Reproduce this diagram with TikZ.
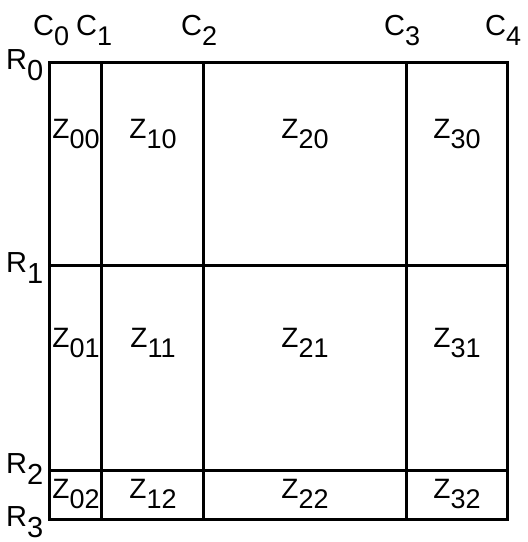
\documentclass[tikz,border=0pt]{standalone}
\usepackage{fontspec}
\setmainfont{Liberation Sans}
\newcommand{\lowsub}[2]{#1\raisebox{-10pt}{\fontsize{27}{27}\selectfont #2}}
\newcommand{\rowsub}[2]{#1\raisebox{-11pt}{\fontsize{29}{29}\selectfont #2}}
\begin{document}
\begin{tikzpicture}[x=1pt,y=-1pt,
    gridline/.style={line width=3pt},
    tag/.style={anchor=base west,inner sep=0pt,font=\fontsize{29}{29}\selectfont},
    cell/.style={anchor=base,inner sep=0pt,font=\fontsize{28}{28}\selectfont}]
    \useasboundingbox (0,0) rectangle (528,542);

    \draw[gridline] (49,62) rectangle (507,519);
    \draw[gridline] (101,62) -- (101,519);
    \draw[gridline] (203,62) -- (203,519);
    \draw[gridline] (406,62) -- (406,519);
    \draw[gridline] (49,265) -- (507,265);
    \draw[gridline] (49,470) -- (507,470);

    \node[tag] (c0) at (33,35)  {\lowsub{C}{0}};
    \node[tag] (c1) at (76,35)  {\lowsub{C}{1}};
    \node[tag] (c2) at (181,35) {\lowsub{C}{2}};
    \node[tag] (c3) at (384,35) {\lowsub{C}{3}};
    \node[tag] (c4) at (485,35) {\lowsub{C}{4}};

    \node[tag] (r0) at (6,69)  {\rowsub{R}{0}};
    \node[tag] (r1) at (6,272) {\rowsub{R}{1}};
    \node[tag] (r2) at (6,473) {\rowsub{R}{2}};
    \node[tag] (r3) at (6,526) {\rowsub{R}{3}};

    \foreach \i/\x in {0/76,1/153,2/305,3/457}
      \foreach \j/\y in {0/138,1/347,2/498}
        \node[cell] (z\i\j) at (\x,\y) {\lowsub{Z}{\i\j}};
\end{tikzpicture}
\end{document}
